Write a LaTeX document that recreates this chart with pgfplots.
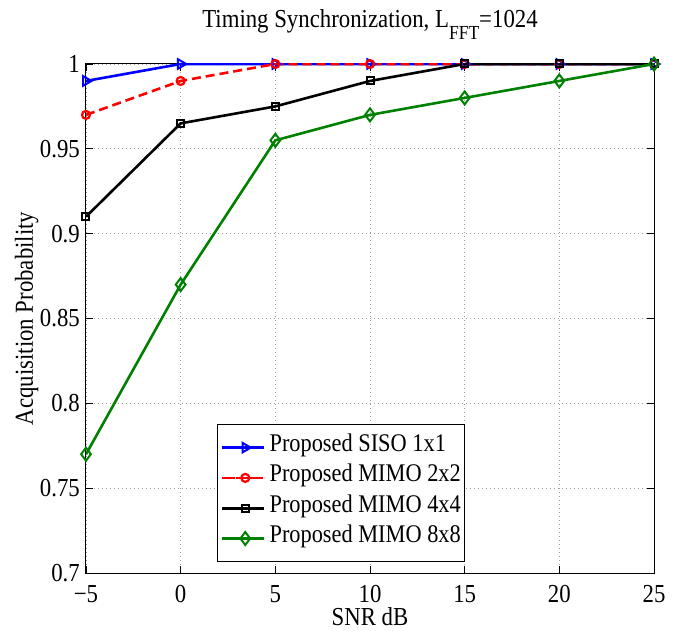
\documentclass[border=0pt]{standalone}
\usepackage{fontspec}
\setmainfont{Liberation Serif}[FakeStretch=0.88]
\usepackage{pgfplots}
\pgfplotsset{compat=1.18}
\begin{document}
\begin{tikzpicture}[x=1bp,y=1bp]
\begin{axis}[
  at={(0bp,0bp)}, anchor=south west,
  scale only axis,
  width=568bp, height=509bp,
  xmin=-5, xmax=25, ymin=0.7, ymax=1,
  xtick={-5,0,5,10,15,20,25},
  xticklabels={−5,0,5,10,15,20,25},
  ytick={0.7,0.75,0.8,0.85,0.9,0.95,1},
  yticklabels={0.7,0.75,0.8,0.85,0.9,0.95,1},
  tick align=inside,
  major tick length=7bp,
  tick pos=both,
  grid=major,
  grid style={gray!75, line width=0.7pt, dash pattern=on 0.8bp off 3.2bp},
  axis line style={line width=1bp},
  every tick/.style={black, line width=0.7pt},
  tick label style={font=\fontsize{26}{29}\selectfont},
  xticklabel style={anchor=base, inner sep=0pt, yshift=-29bp},
  yticklabel style={anchor=east, inner sep=0pt, xshift=-6bp},
  /pgf/number format/assume math mode=true,
  xlabel={SNR dB}, ylabel={Acquisition Probability},
  label style={font=\fontsize{26}{29}\selectfont},
  xlabel style={at={([yshift=-52bp]axis description cs:0.5,0)}, anchor=base, inner sep=0pt},
  ylabel style={at={([xshift=-53bp]axis description cs:0,0.5)}, anchor=base, inner sep=0pt, rotate=0},
  title={Timing Synchronization, L\raisebox{-12bp}{\fontsize{20}{20}\selectfont FFT}=1024},
  title style={at={([yshift=31bp]axis description cs:0.5,1)}, anchor=base, inner sep=0pt, font=\fontsize{26}{29}\selectfont},
  legend style={at={(0.2306,0.0216)}, anchor=south west, font=\fontsize{25.5}{28}\selectfont,
    draw=black, line width=1bp, inner xsep=3.5bp, inner ysep=3bp,
    nodes={inner sep=0pt, text height=24bp, text depth=16bp},
    row sep=-9.7bp, column sep=4bp},
  legend cell align=left,
  legend image code/.code={%
    \path (0bp,0bp) -- (42bp,0bp);
    \draw[mark repeat=2,mark phase=2,#1] plot coordinates {(4bp,0bp) (23bp,0bp) (42bp,0bp)};},
  every axis plot/.append style={line width=2.6bp},
]
\addplot[blue, mark=triangle, mark size=5.5bp, mark options={solid, rotate=-90, line width=2bp}] coordinates {(-5,0.99) (0,1) (5,1) (10,1) (15,1) (20,1) (25,1)};
\addlegendentry{Proposed SISO 1x1}
\addplot[red, dash pattern=on 9bp off 5bp, mark=o, mark size=4bp, mark options={solid, line width=2.2bp}] coordinates {(-5,0.97) (0,0.99) (5,1) (10,1) (15,1) (20,1) (25,1)};
\addlegendentry{Proposed MIMO 2x2}
\addplot[black, mark=square, mark size=3.5bp, mark options={solid, line width=2bp}] coordinates {(-5,0.91) (0,0.965) (5,0.975) (10,0.99) (15,1) (20,1) (25,1)};
\addlegendentry{Proposed MIMO 4x4}
\addplot[green!50!black, mark=diamond, mark size=6.5bp, mark options={solid, line width=2bp}] coordinates {(-5,0.77) (0,0.87) (5,0.955) (10,0.97) (15,0.98) (20,0.99) (25,1)};
\addlegendentry{Proposed MIMO 8x8}
\end{axis}
\pgfresetboundingbox
\path[use as bounding box] (-86bp,-58bp) rectangle (592bp,573bp);
\end{tikzpicture}
\end{document}
